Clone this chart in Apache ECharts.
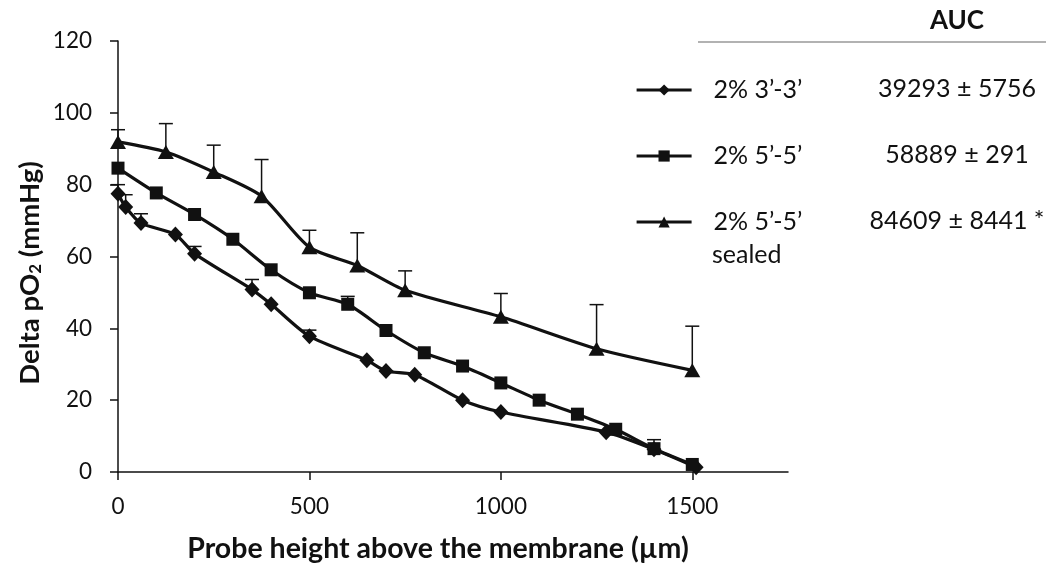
<!DOCTYPE html>
<html>
<head>
<meta charset="utf-8">
<script src="https://cdn.jsdelivr.net/npm/echarts@6/dist/echarts.min.js"></script>
<style>html,body{margin:0;padding:0;background:#fff}#c{width:1061px;height:569px}</style>
</head>
<body>
<div id="c"></div>
<script>
// ---- data ----
const seriesNames = ['2% 3\u2019-3\u2019', '2% 5\u2019-5\u2019', '2% 5\u2019-5\u2019 sealed'];
const legendLabels = ['2% 3\u2019-3\u2019', '2% 5\u2019-5\u2019', '2% 5\u2019-5\u2019'];
const aucValues = ['39293 \u00b1 5756', '58889 \u00b1 291', '84609 \u00b1 8441 *'];

const diamondX = [0, 20, 60, 150, 200, 350, 400, 500, 650, 700, 775, 900, 1000, 1275, 1400, 1510];
const diamondY = [77.5, 73.8, 69.3, 66.1, 60.8, 50.8, 46.7, 37.8, 31.1, 28.1, 27.1, 20.0, 16.7, 11.1, 6.3, 1.3];
const diamondErr = [2.5, 3.4, 2.6, null, 2.0, 2.8, null, 1.7, null, null, null, null, null, null, null, null];

const squareX = [0, 100, 200, 300, 400, 500, 600, 700, 800, 900, 1000, 1100, 1200, 1300, 1400, 1500];
const squareY = [84.6, 77.7, 71.7, 64.8, 56.3, 49.9, 46.7, 39.4, 33.2, 29.5, 24.8, 20.0, 16.1, 11.9, 6.5, 2.1];
const squareErr = [null, null, null, null, null, null, 2.2, null, null, null, null, null, null, null, 2.5, null];

const triX = [0, 125, 250, 375, 500, 625, 750, 1000, 1250, 1500];
const triY = [91.9, 89.1, 83.5, 76.8, 62.6, 57.5, 50.6, 43.2, 34.3, 28.3];
const triErr = [3.4, 7.9, 7.5, 10.2, 4.7, 9.1, 5.4, 6.5, 12.3, 12.3];

const xTicks = [0, 500, 1000, 1500];

// ---- chart ----
const FONT = 'Lato';
const INK = '#111';
const pairs = (xs, ys) => xs.map((x, i) => [x, ys[i]]);
const errData = (xs, ys, es) => xs.map((x, i) => es[i] == null ? null : [x, ys[i], ys[i] + es[i]]).filter(Boolean);

function renderErr(params, api) {
  const p0 = api.coord([api.value(0), api.value(1)]);
  const p1 = api.coord([api.value(0), api.value(2)]);
  return {
    type: 'group',
    children: [
      {type: 'line', shape: {x1: p0[0], y1: p0[1], x2: p1[0], y2: p1[1]}, style: {stroke: INK, lineWidth: 1.5}},
      {type: 'line', shape: {x1: p1[0] - 7, y1: p1[1], x2: p1[0] + 7, y2: p1[1]}, style: {stroke: INK, lineWidth: 1.5}}
    ]
  };
}

function lineSeries(name, data, symbol, size) {
  return {
    name: name, type: 'line', data: data, smooth: 0.25,
    symbol: symbol, symbolSize: size, showAllSymbol: true,
    lineStyle: {color: INK, width: 3.2},
    itemStyle: {color: INK},
    z: 3
  };
}
function errSeries(data) {
  return {type: 'custom', renderItem: renderErr, data: data, z: 2, silent: true,
    encode: {x: 0, y: [1, 2]}};
}

const chart = echarts.init(document.getElementById('c'));
chart.setOption({
  animation: false,
  backgroundColor: '#fff',
  grid: {left: 118, right: 273, top: 41, bottom: 97},
  xAxis: {
    type: 'value', min: 0, max: 1750, interval: 500,
    axisLine: {show: true, lineStyle: {color: INK, width: 1.5}},
    axisTick: {show: true, length: 8, inside: false, lineStyle: {color: INK, width: 1.5}, customValues: xTicks},
    axisLabel: {fontFamily: FONT, fontSize: 22.5, color: INK, margin: 23, customValues: xTicks,
      formatter: function (v) { return String(v); }},
    splitLine: {show: false},
    name: 'Probe height above the membrane (\u00b5m)',
    nameLocation: 'middle', nameGap: 62,
    nameTextStyle: {fontFamily: FONT, fontSize: 28.5, fontWeight: 'bold', color: INK, padding: [0, 30, 0, 0]}
  },
  yAxis: {
    type: 'value', min: 0, max: 120, interval: 20,
    axisLine: {show: true, lineStyle: {color: INK, width: 1.5}},
    axisTick: {show: true, length: 8, inside: false, lineStyle: {color: INK, width: 1.5}},
    axisLabel: {fontFamily: FONT, fontSize: 22.5, color: INK, margin: 26},
    splitLine: {show: false}
  },
  legend: {
    orient: 'vertical', left: 630, top: 70,
    itemWidth: 55, itemHeight: 14, itemGap: 36,
    data: seriesNames,
    formatter: function (n) { return legendLabels[seriesNames.indexOf(n)]; },
    lineStyle: {width: 3.2, color: INK},
    textStyle: {fontFamily: FONT, fontSize: 25, color: INK, lineHeight: 30, padding: [0, 0, 0, 17]},
    selectedMode: false
  },
  graphic: [
    {type: 'text', x: 28, y: 273, rotation: Math.PI / 2,
      style: {text: '{b|Delta pO}{s|2}{b| (mmHg)}', align: 'center', verticalAlign: 'middle',
        rich: {
          b: {fontFamily: FONT, fontSize: 27.5, fontWeight: 'bold', fill: INK, lineHeight: 32, verticalAlign: 'bottom'},
          s: {fontFamily: FONT, fontSize: 17, fontWeight: 'bold', fill: INK, lineHeight: 24, verticalAlign: 'bottom'}
        }}},
    {type: 'text', x: 957, y: 21, style: {text: 'AUC', font: 'bold 26px ' + FONT, fill: INK, align: 'center', verticalAlign: 'middle'}},
    {type: 'line', shape: {x1: 698, y1: 42, x2: 1046, y2: 42}, style: {stroke: '#999', lineWidth: 1.5}},
    {type: 'text', x: 957, y: 89, style: {text: aucValues[0], font: '25px ' + FONT, fill: INK, align: 'center', verticalAlign: 'middle'}},
    {type: 'text', x: 957, y: 155, style: {text: aucValues[1], font: '25px ' + FONT, fill: INK, align: 'center', verticalAlign: 'middle'}},
    {type: 'text', x: 957, y: 221, style: {text: aucValues[2], font: '25px ' + FONT, fill: INK, align: 'center', verticalAlign: 'middle'}},
    {type: 'text', x: 712, y: 255, style: {text: 'sealed', font: '25px ' + FONT, fill: INK, align: 'left', verticalAlign: 'middle'}}
  ],
  series: [
    lineSeries(seriesNames[0], pairs(diamondX, diamondY), 'diamond', [15, 16]),
    lineSeries(seriesNames[1], pairs(squareX, squareY), 'rect', 13),
    lineSeries(seriesNames[2], pairs(triX, triY), 'triangle', [16, 14]),
    errSeries(errData(diamondX, diamondY, diamondErr)),
    errSeries(errData(squareX, squareY, squareErr)),
    errSeries(errData(triX, triY, triErr))
  ]
});
</script>
</body>
</html>
